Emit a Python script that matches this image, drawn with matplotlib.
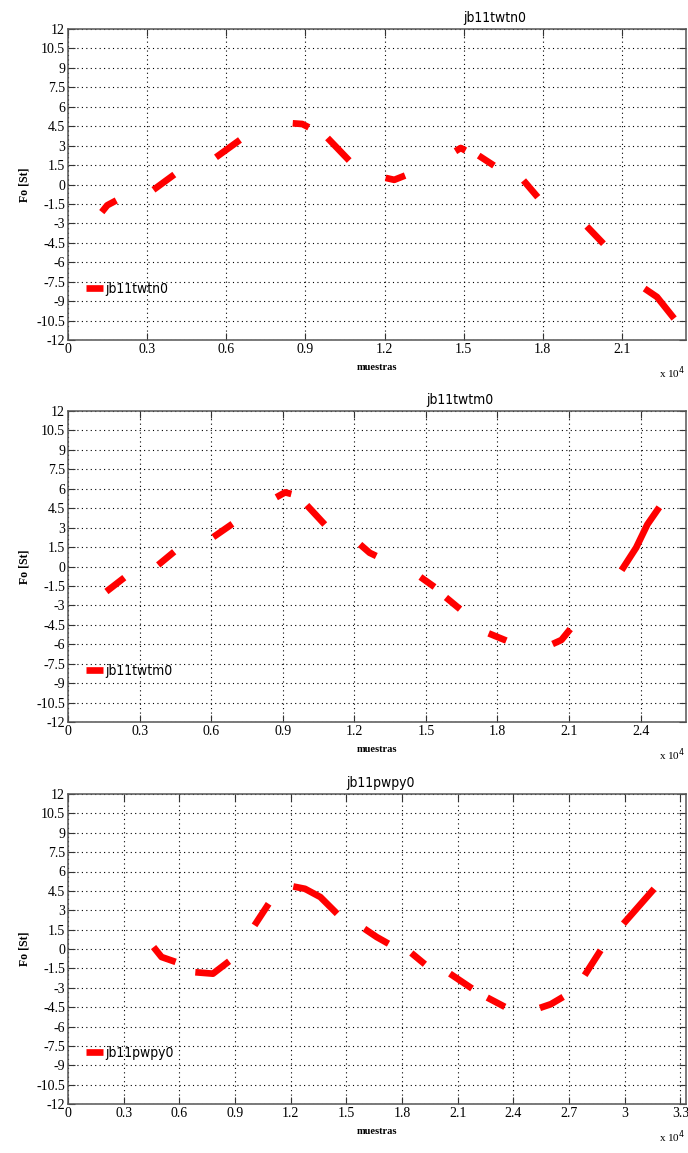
import numpy as np
import matplotlib
matplotlib.use("Agg")
import matplotlib.pyplot as plt
from matplotlib.ticker import FuncFormatter, MultipleLocator

# Fundamental frequency (Fo, semitones) per voiced stretch, x in samples.
# Each inner list is one voiced stretch of the recording.
twtn_x = [[1280, 1490, 1830], [3240, 4030], [5610, 6520], [8520, 8880, 9130],
          [9840, 10660], [12040, 12370, 12780], [14690, 14890, 15070],
          [15570, 16150], [17270, 17810], [19670, 20300], [21860, 22330, 22980]]
twtn_y = [[-2.13, -1.6, -1.23], [-0.41, 0.77], [2.1, 3.44], [4.72, 4.67, 4.41],
          [3.59, 1.85], [0.51, 0.36, 0.69], [2.57, 2.82, 2.62],
          [2.23, 1.46], [0.31, -0.98], [-3.23, -4.57], [-8.03, -8.68, -10.34]]

twtm_x = [[1610, 2360], [3780, 4450], [6090, 6890], [8730, 9100, 9360],
          [10010, 10760], [12240, 12640, 12920], [14770, 15360], [15840, 16430],
          [17630, 18370], [20310, 20680, 21050], [23200, 23810, 24280, 24780]]
twtm_y = [[-1.93, -0.86], [0.12, 1.14], [2.27, 3.29], [5.34, 5.72, 5.6],
          [4.73, 3.24], [1.7, 1.06, 0.81], [-0.81, -1.58], [-2.39, -3.29],
          [-5.16, -5.72], [-5.98, -5.67, -4.83], [-0.29, 1.45, 3.24, 4.57]]

pwpy_x = [[4610, 5040, 5800], [6860, 7810, 8680], [10050, 10810],
          [12140, 12770, 13600, 14500], [15970, 16630, 17270], [18500, 19230],
          [20580, 21770], [22590, 23540], [25430, 26020, 26680], [27840, 28700],
          [29930, 31580]]
pwpy_y = [[0.15, -0.62, -1.0], [-1.8, -1.91, -0.95], [1.83, 3.5],
          [4.84, 4.66, 4.02, 2.73], [1.57, 0.93, 0.41], [-0.31, -1.18],
          [-1.91, -3.06], [-3.76, -4.48], [-4.56, -4.27, -3.71], [-2.03, -0.1],
          [1.96, 4.66]]

names = ["jb11twtn0", "jb11twtm0", "jb11pwpy0"]
series_x = [twtn_x, twtm_x, pwpy_x]
series_y = [twtn_y, twtm_y, pwpy_y]
x_limits = [23430, 25900, 33300]
title_xpos = [0.691, 0.634, 0.506]

W, H = 688, 1153
fig = plt.figure(figsize=(W / 100, H / 100), dpi=100)

serif = ["Liberation Serif", "DejaVu Serif"]
narrow = ["Liberation Sans Narrow", "DejaVu Sans"]

ax_boxes = [(29, 340), (411, 722), (794, 1104)]
left_px, right_px = 68, 686


def join_segments(xs, ys):
    # put NaN breaks between voiced stretches so one line draws them all
    xx, yy = [], []
    for sx, sy in zip(xs, ys):
        xx += list(sx) + [np.nan]
        yy += list(sy) + [np.nan]
    return np.array(xx, float), np.array(yy, float)


for i, (top, bot) in enumerate(ax_boxes):
    ax = fig.add_axes([left_px / W, (H - bot) / H,
                       (right_px - left_px) / W, (bot - top) / H])
    x, y = join_segments(series_x[i], series_y[i])
    ax.plot(x, y, color="#ff0000", lw=4.8, solid_capstyle="butt",
            solid_joinstyle="round", label=names[i])

    ax.set_xlim(0, x_limits[i])
    ax.set_ylim(-12, 12)
    ax.xaxis.set_major_locator(MultipleLocator(3000))
    ax.yaxis.set_major_locator(MultipleLocator(1.5))
    ax.xaxis.set_major_formatter(FuncFormatter(lambda v, p: f"{v / 1e4:g}"))
    ax.yaxis.set_major_formatter(FuncFormatter(lambda v, p: f"{v:g}"))

    ax.grid(True, color="black", linestyle=(0, (1, 3)), linewidth=0.8)
    ax.tick_params(direction="in", top=True, right=True, length=5,
                   width=0.8, color="#333333", labelsize=10, pad=2)
    for lab in ax.get_xticklabels() + ax.get_yticklabels():
        lab.set_family(serif)
    for sp in ax.spines.values():
        sp.set_color("#555555")
        sp.set_linewidth(1.1)

    ax.text(title_xpos[i], 1.0 + 11 / (bot - top), names[i],
            transform=ax.transAxes, ha="center", va="center",
            fontsize=10, family=narrow, fontstretch="condensed")
    ax.set_ylabel("Fo [St]", family=serif, fontsize=8.5, fontweight="bold",
                  labelpad=4)
    ax.set_xlabel("muestras", family=serif, fontsize=7.5, fontweight="bold",
                  labelpad=5)

    ax.legend(loc="center left", bbox_to_anchor=(0.02, 0.164),
              frameon=False, handlelength=1.2, handletextpad=0.2,
              borderaxespad=0,
              prop={"family": narrow, "size": 10, "stretch": "condensed"})

    fig.text((W - 3) / W, (H - bot - 33) / H, r"x 10$^4$", ha="right",
             va="center", fontsize=8, family=serif)

fig.savefig("out.png", dpi=100, facecolor="white")
